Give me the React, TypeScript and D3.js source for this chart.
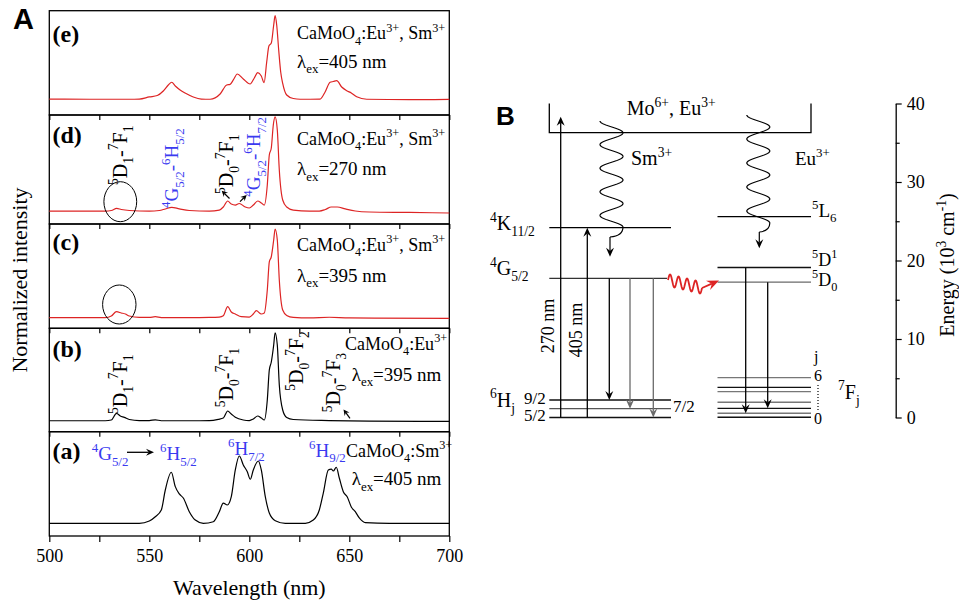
import { useEffect, useRef } from "react";
import * as d3 from "d3";

type Pt = [number, number];

// Panel A: emission spectra, [wavelength (nm), intensity as share of panel height]
const specE: Pt[] = [[500,0.153],[520,0.151],[540,0.151],[545,0.153],[550,0.173],[554,0.187],[557,0.230],[559.5,0.288],[561.2,0.314],[563,0.278],[565.4,0.240],[567.9,0.211],[572,0.173],[576,0.153],[580.4,0.151],[585.4,0.201],[588.7,0.288],[590.4,0.294],[592,0.336],[594,0.393],[597,0.345],[600.4,0.297],[602.5,0.355],[604.2,0.406],[606,0.374],[607.4,0.310],[608.7,0.508],[609.8,0.662],[611,0.690],[612.2,0.863],[612.9,0.952],[613.7,0.863],[614.7,0.623],[615.7,0.412],[616.7,0.304],[618.7,0.192],[622,0.158],[625.4,0.151],[635.4,0.153],[637.9,0.221],[640.4,0.314],[642,0.321],[643.7,0.329],[646.2,0.268],[648.7,0.233],[651,0.211],[653.7,0.175],[658.7,0.151],[680,0.147],[700,0.149]];
const specD: Pt[] = [[500,0.119],[520,0.119],[528,0.119],[531,0.124],[533.7,0.144],[536,0.133],[540,0.124],[550,0.119],[555,0.124],[558,0.138],[561.2,0.153],[565,0.139],[570,0.124],[580,0.119],[585,0.128],[587,0.156],[589.2,0.211],[591,0.183],[593,0.174],[595,0.188],[598,0.156],[600,0.147],[602,0.174],[604.2,0.211],[606,0.193],[607.5,0.174],[609,0.358],[610,0.633],[611,0.697],[612,0.908],[612.9,0.982],[614,0.862],[615,0.495],[616.7,0.220],[618.7,0.156],[622,0.128],[630,0.119],[635,0.119],[638,0.133],[641,0.156],[644,0.156],[648,0.138],[653,0.119],[660,0.110],[680,0.106],[700,0.101]];
const specC: Pt[] = [[500,0.102],[520,0.102],[528,0.102],[531,0.118],[533.6,0.159],[536,0.147],[538,0.137],[540,0.118],[545,0.104],[550,0.104],[553,0.111],[556,0.102],[570,0.102],[580,0.104],[585,0.108],[587,0.121],[589.2,0.207],[591,0.156],[593,0.137],[596,0.111],[600,0.108],[602,0.137],[603.5,0.169],[606,0.137],[607.5,0.147],[609,0.367],[610,0.636],[611,0.686],[612.2,0.847],[612.9,0.952],[614,0.847],[615,0.463],[616.7,0.175],[618.7,0.123],[622,0.104],[630,0.099],[640,0.106],[650,0.099],[700,0.096]];
const specB: Pt[] = [[500,0.106],[520,0.106],[528,0.106],[531,0.113],[533.6,0.178],[535.5,0.152],[537.5,0.139],[540,0.118],[545,0.108],[550,0.108],[553,0.115],[556,0.106],[570,0.106],[580,0.108],[584.5,0.120],[587,0.132],[589.2,0.200],[591,0.171],[593,0.139],[597,0.113],[600,0.108],[602,0.123],[604.2,0.152],[606,0.132],[607.5,0.113],[609,0.307],[610,0.597],[611,0.674],[612.2,0.838],[612.9,0.957],[614,0.838],[615,0.452],[616.7,0.210],[618.7,0.137],[622,0.118],[640,0.108],[660,0.103],[700,0.099]];
const specA: Pt[] = [[500,0.122],[520,0.122],[545,0.122],[550,0.144],[553,0.185],[556,0.249],[558,0.441],[561,0.611],[563,0.473],[565,0.403],[567,0.364],[570,0.233],[573,0.153],[577,0.122],[582,0.137],[585,0.233],[587,0.316],[589,0.297],[591,0.377],[593,0.633],[595,0.767],[597,0.681],[599,0.616],[600.5,0.544],[602,0.633],[604.5,0.719],[606,0.633],[608,0.377],[610,0.221],[613,0.147],[618,0.122],[628,0.122],[632,0.153],[635,0.249],[637,0.412],[639.5,0.633],[641,0.642],[642,0.623],[643.5,0.659],[645,0.556],[647,0.425],[649,0.374],[651,0.278],[653,0.233],[655,0.173],[658,0.128],[670,0.122],[700,0.122]];

const wlTicks = d3.range(500, 701, 25);

// Panel B: energy levels (10^3 cm^-1)
const energyTicks = [0, 10, 20, 30, 40];
const energyMinor = [5, 15, 25, 35];
const hostBand = 36.3;
const smK = 24.18; // 4K11/2
const smG = 17.73; // 4G5/2
const smH = [2.23, 1.12, 0]; // 6H9/2, 6H7/2, 6H5/2
const euL6 = 25.58;
const euD1 = 19.11;
const euD0 = 17.24;
const euF = [5.07, 3.85, 3.29, 1.94, 1.17, 0.54, 0.03]; // 7F6 ... 7F0
const exc270 = 38.3;

const RED = "#dd2424";
const BLUE = "#3a3af0";
const GRAY = "#6a6a6a";
const SERIF = "'Liberation Serif', 'Times New Roman', serif";
const SANS = "'Liberation Sans', Arial, sans-serif";

type Seg = { s: string; m: "n" | "sup" | "sub" };

// tiny markup: ^x or ^{xy} superscript, _x or _{xy} subscript
function parse(src: string): Seg[] {
  const out: Seg[] = [];
  let buf = "";
  for (let i = 0; i < src.length; i++) {
    const c = src[i];
    if (c === "^" || c === "_") {
      if (buf) { out.push({ s: buf, m: "n" }); buf = ""; }
      let tok = "";
      if (src[i + 1] === "{") {
        const j = src.indexOf("}", i + 2);
        tok = src.slice(i + 2, j);
        i = j;
      } else {
        tok = src[i + 1];
        i += 1;
      }
      out.push({ s: tok, m: c === "^" ? "sup" : "sub" });
    } else buf += c;
  }
  if (buf) out.push({ s: buf, m: "n" });
  return out;
}

function rich(parent: any, x: number, y: number, src: string, size: number, opts: any = {}) {
  const t = parent
    .append("text")
    .attr("transform", `translate(${x},${y})${opts.rot ? ` rotate(${opts.rot})` : ""}`)
    .attr("font-family", opts.family ?? SERIF)
    .attr("font-size", size)
    .attr("font-weight", opts.weight ?? "normal")
    .attr("fill", opts.color ?? "#000")
    .attr("text-anchor", opts.anchor ?? "start")
    .style("white-space", "pre");
  let cur = 0;
  for (const seg of parse(src)) {
    const off = seg.m === "sup" ? -0.42 * size : seg.m === "sub" ? 0.3 * size : 0;
    t.append("tspan")
      .attr("dy", off - cur)
      .attr("font-size", seg.m === "n" ? size : size * 0.68)
      .text(seg.s);
    cur = off;
  }
  return t;
}

function arrow(parent: any, x1: number, y1: number, x2: number, y2: number, color: string, w = 1.3, len = 9, half = 4) {
  const a = Math.atan2(y2 - y1, x2 - x1);
  const c = Math.cos(a), s = Math.sin(a);
  const notch = len * 0.65;
  parent.append("line")
    .attr("x1", x1).attr("y1", y1)
    .attr("x2", x2 - notch * c).attr("y2", y2 - notch * s)
    .attr("stroke", color).attr("stroke-width", w);
  const bx = x2 - len * c, by = y2 - len * s;
  const pts = [
    [x2, y2],
    [bx - s * half, by + c * half],
    [x2 - notch * c, y2 - notch * s],
    [bx + s * half, by - c * half],
  ];
  parent.append("path").attr("d", "M" + pts.map((p) => p.join(",")).join("L") + "Z").attr("fill", color);
}

function wave(cx: number, y0: number, halves: number, amp: number, period: number): Pt[] {
  const pts: Pt[] = [];
  const y1 = y0 + (halves * period) / 2;
  for (let y = y0; y <= y1 + 0.01; y += 0.5) pts.push([cx - amp * Math.cos((2 * Math.PI * (y - y0)) / period), y]);
  return pts;
}

export default function App() {
  const svgRef = useRef<SVGSVGElement>(null);

  useEffect(() => {
    const svg = d3.select(svgRef.current);
    svg.selectAll("*").remove();

    // ---------------- Panel A ----------------
    const bounds = [10.7, 115, 224, 328.3, 431.7, 536];
    const x = d3.scaleLinear().domain([500, 700]).range([49.3, 449.3]);
    const panels = [
      { data: specE, color: RED },
      { data: specD, color: RED },
      { data: specC, color: RED },
      { data: specB, color: "#000" },
      { data: specA, color: "#000" },
    ];
    const gA = svg.append("g");

    panels.forEach((p, i) => {
      const top = bounds[i], bottom = bounds[i + 1];
      const y = d3.scaleLinear().domain([0, 1]).range([bottom, top]);
      const last = i === panels.length - 1;
      const ax = gA.append("g")
        .attr("transform", `translate(0,${bottom})`)
        .call(
          d3.axisBottom(x)
            .tickValues(wlTicks)
            .tickSize(last ? 6 : 5)
            .tickSizeOuter(0)
            .tickPadding(7)
            .tickFormat((d: any) => (last && d % 50 === 0 ? String(d) : ""))
        );
      ax.select(".domain").remove();
      ax.selectAll("line").attr("stroke", "#000").attr("stroke-width", 1.2);
      ax.selectAll("text").attr("font-family", SERIF).attr("font-size", 18).attr("fill", "#000");

      gA.append("rect")
        .attr("x", x(500)).attr("y", top)
        .attr("width", x(700) - x(500)).attr("height", bottom - top)
        .attr("fill", "none").attr("stroke", "#000").attr("stroke-width", 1.3);

      gA.append("path")
        .datum(p.data)
        .attr("d", d3.line<Pt>().x((d) => x(d[0])).y((d) => y(d[1])).curve(d3.curveMonotoneX))
        .attr("fill", "none")
        .attr("stroke", p.color)
        .attr("stroke-width", 1.2);
    });

    // panel tags and sample labels
    const tags: [string, number][] = [["(e)", 41.7], ["(d)", 143.3], ["(c)", 250], ["(b)", 356.7], ["(a)", 459]];
    tags.forEach(([t, yy]) => rich(gA, 52.5, yy, t, 24, { weight: "bold" }));

    rich(gA, 297, 39.3, "CaMoO_4:Eu^{3+}, Sm^{3+}", 18);
    rich(gA, 297, 67.7, "λ_{ex}=405 nm", 19);
    rich(gA, 297, 145, "CaMoO_4:Eu^{3+}, Sm^{3+}", 18);
    rich(gA, 297, 175, "λ_{ex}=270 nm", 19);
    rich(gA, 297, 250.7, "CaMoO_4:Eu^{3+}, Sm^{3+}", 18);
    rich(gA, 297, 281.7, "λ_{ex}=395 nm", 19);
    rich(gA, 345, 350, "CaMoO_4:Eu^{3+}", 18);
    rich(gA, 351.7, 380.7, "λ_{ex}=395 nm", 19);
    rich(gA, 346, 456.7, "CaMoO_4:Sm^{3+}", 18);
    rich(gA, 351.7, 485, "λ_{ex}=405 nm", 19);

    // rotated transition labels
    rich(gA, 126.7, 185, "^5D_1-^7F_1", 20, { rot: -90 });
    rich(gA, 178.3, 208, "^4G_{5/2}-^6H_{5/2}", 19, { rot: -90, color: BLUE });
    rich(gA, 233.3, 194, "^5D_0-^7F_1", 20, { rot: -90 });
    rich(gA, 260, 196.7, "^4G_{5/2}-^6H_{7/2}", 19, { rot: -90, color: BLUE });
    rich(gA, 126.7, 414, "^5D_1-^7F_1", 20, { rot: -90 });
    rich(gA, 233.3, 407.3, "^5D_0-^7F_1", 20, { rot: -90 });
    rich(gA, 303.3, 390.7, "^5D_0-^7F_2", 20, { rot: -90 });
    rich(gA, 340, 412.3, "^5D_0-^7F_3", 20, { rot: -90 });

    arrow(gA, 229.5, 198.5, 221.7, 190.7, "#000", 1.2, 6, 3);
    arrow(gA, 240, 201.7, 246.7, 195, "#000", 1.2, 6, 3);
    arrow(gA, 350, 418.3, 343.5, 409.5, "#000", 1.2, 6, 3);

    gA.append("ellipse").attr("cx", 120.3).attr("cy", 201.7).attr("rx", 16.4).attr("ry", 20)
      .attr("fill", "none").attr("stroke", "#000").attr("stroke-width", 1);
    gA.append("ellipse").attr("cx", 119.3).attr("cy", 304.5).attr("rx", 16.7).attr("ry", 19.5)
      .attr("fill", "none").attr("stroke", "#000").attr("stroke-width", 1);

    // Sm transitions in (a)
    rich(gA, 91.7, 460, "^4G_{5/2}", 19, { color: BLUE });
    arrow(gA, 127, 452.3, 154, 452.3, "#000", 1.3, 8, 3.5);
    rich(gA, 160, 460, "^6H_{5/2}", 19, { color: BLUE });
    rich(gA, 228, 455, "^6H_{7/2}", 19, { color: BLUE });
    rich(gA, 309, 456.7, "^6H_{9/2}", 19, { color: BLUE });

    gA.append("text").attr("x", 249.3).attr("y", 595).attr("text-anchor", "middle")
      .attr("font-family", SERIF).attr("font-size", 22).text("Wavelength (nm)");
    gA.append("text").attr("transform", "translate(27,280) rotate(-90)").attr("text-anchor", "middle")
      .attr("font-family", SERIF).attr("font-size", 22).text("Normalized intensity");

    svg.append("text").attr("x", 13).attr("y", 29).attr("font-family", SANS).attr("font-weight", "bold")
      .attr("font-size", 29).text("A");

    // ---------------- Panel B ----------------
    const gB = svg.append("g");
    const e = d3.scaleLinear().domain([0, 40]).range([417.5, 103.5]);

    svg.append("text").attr("x", 496).attr("y", 125).attr("font-family", SANS).attr("font-weight", "bold")
      .attr("font-size", 26).text("B");

    const level = (x1: number, x2: number, en: number, color = "#000") =>
      gB.append("line").attr("x1", x1).attr("x2", x2).attr("y1", e(en)).attr("y2", e(en))
        .attr("stroke", color).attr("stroke-width", 1.3);

    // host band bracket
    gB.append("path")
      .attr("d", `M549.3,${e(40)}V${e(hostBand)}H811V${e(40)}`)
      .attr("fill", "none").attr("stroke", "#000").attr("stroke-width", 1.3);

    level(549.3, 671, smK);
    level(549.3, 667, smG, "#333");
    level(549.3, 671, smH[0], "#111");
    level(549.3, 671, smH[1], "#555");
    level(549.3, 671, smH[2], "#111");

    level(717.5, 811, euL6);
    level(717.5, 811, euD1, "#111");
    level(717.5, 811, euD0, GRAY);
    euF.forEach((f, i) => level(717.5, 811, f, i % 3 === 1 || i === 6 ? "#111" : "#777"));

    // excitation
    arrow(gB, 560.7, e(0), 560.7, e(exc270), "#000", 1.3, 9, 4);
    arrow(gB, 587.3, e(0), 587.3, e(smK), "#000", 1.3, 9, 4);
    // Sm emission
    arrow(gB, 609.3, e(smG), 609.3, e(smH[0]), "#000", 1.3, 9, 4);
    arrow(gB, 630, e(smG), 630, e(smH[1]), GRAY, 1.3, 9, 4);
    arrow(gB, 653.3, e(smG), 653.3, e(smH[2]), GRAY, 1.3, 9, 4);
    // Eu emission
    arrow(gB, 745.7, e(euD1), 745.7, e(euF[5]), "#000", 1.3, 9, 4);
    arrow(gB, 767.7, e(euD0), 767.7, e(euF[4]), "#000", 1.3, 9, 4);

    // non-radiative relaxation
    const wl = d3.line<Pt>().x((d) => d[0]).y((d) => d[1]);
    const smW = wave(611.5, 121, 9, 11.5, 23.6);
    const smEnd = smW[smW.length - 1];
    gB.append("path")
      .attr("d", wl(smW) + `Q${smEnd[0]},${smEnd[1] + 9} 610,${smEnd[1] + 10}`)
      .attr("fill", "none").attr("stroke", "#000").attr("stroke-width", 1.2);
    arrow(gB, 610, smEnd[1] + 10, 610, 256.7, "#000", 1.2, 9, 4);

    const euW = wave(758.3, 115, 9, 11.5, 24);
    const euEnd = euW[euW.length - 1];
    gB.append("path")
      .attr("d", wl(euW) + `Q${euEnd[0]},${euEnd[1] + 8} 759.3,${euEnd[1] + 9}`)
      .attr("fill", "none").attr("stroke", "#000").attr("stroke-width", 1.2);
    arrow(gB, 759.3, euEnd[1] + 9, 759.3, 248.3, "#000", 1.2, 9, 4);

    // energy transfer Sm -> Eu
    const rw: Pt[] = d3.range(0, 1.0001, 0.01).map((t) => [668 + 34 * t, 280 + 8 * t - 6 * Math.sin(2 * Math.PI * 4 * t)]);
    gB.append("path").attr("d", wl(rw)).attr("fill", "none").attr("stroke", RED).attr("stroke-width", 1.8);
    arrow(gB, 702, 288, 719, 280.5, RED, 1.8, 12, 5);

    // texts
    rich(gB, 626.7, 115, "Mo^{6+}, Eu^{3+}", 20);
    rich(gB, 631, 165, "Sm^{3+}", 20);
    rich(gB, 795, 165, "Eu^{3+}", 19);
    rich(gB, 490, 230, "^4K_{11/2}", 20);
    rich(gB, 490, 275, "^4G_{5/2}", 20);
    rich(gB, 490, 406.7, "^6H_j", 20);
    rich(gB, 524, 403.5, "9/2", 17);
    rich(gB, 524, 421, "5/2", 17);
    rich(gB, 673, 412, "7/2", 17);
    rich(gB, 812, 216.5, "^5L_6", 19);
    rich(gB, 812, 265.5, "^5D^1", 18);
    rich(gB, 812, 286, "^5D_0", 18);
    rich(gB, 814, 362, "j", 16);
    rich(gB, 814, 381, "6", 16);
    rich(gB, 814, 423.5, "0", 16);
    gB.append("line").attr("x1", 818).attr("x2", 818).attr("y1", 385).attr("y2", 412)
      .attr("stroke", "#000").attr("stroke-width", 1.2).attr("stroke-dasharray", "1,2");
    rich(gB, 838, 398.5, "^7F_j", 20);
    rich(gB, 554, 326, "270 nm", 18, { rot: -90, anchor: "middle" });
    rich(gB, 581.5, 330, "405 nm", 18, { rot: -90, anchor: "middle" });

    // energy axis
    const eAx = gB.append("g").attr("transform", "translate(895.7,0)")
      .call(d3.axisRight(e).tickValues(energyTicks).tickSize(6).tickPadding(5).tickSizeOuter(0));
    eAx.select(".domain").attr("stroke", "#000").attr("stroke-width", 1.3);
    eAx.selectAll("line").attr("stroke", "#000").attr("stroke-width", 1.2);
    eAx.selectAll("text").attr("font-family", SERIF).attr("font-size", 18).attr("fill", "#000");
    const eMin = gB.append("g").attr("transform", "translate(895.7,0)")
      .call(d3.axisRight(e).tickValues(energyMinor).tickSize(4).tickFormat(() => "").tickSizeOuter(0));
    eMin.select(".domain").remove();
    eMin.selectAll("line").attr("stroke", "#000").attr("stroke-width", 1.2);

    rich(gB, 954, 265, "Energy (10^3 cm^{-1})", 20, { rot: -90, anchor: "middle" });
  }, []);

  return (
    <svg
      ref={svgRef}
      width={959}
      height={604}
      style={{ position: "absolute", left: 0, top: 0, background: "#fff" }}
    />
  );
}
